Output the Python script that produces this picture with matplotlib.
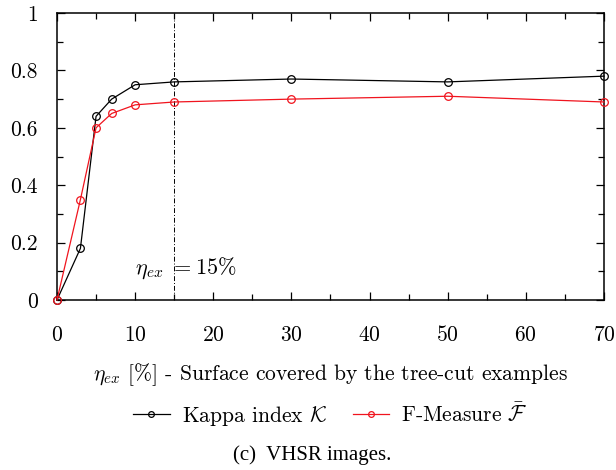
import numpy as np
import matplotlib
matplotlib.use("Agg")
import matplotlib.pyplot as plt
from matplotlib.ticker import MultipleLocator

plt.rcParams['font.family'] = 'serif'
plt.rcParams['font.serif'] = ['cmr10', 'DejaVu Serif']
plt.rcParams['mathtext.fontset'] = 'cm'
plt.rcParams['axes.formatter.use_mathtext'] = True

# data
eta = [0, 3, 5, 7, 10, 15, 30, 50, 70]
kappa = [0.0, 0.18, 0.64, 0.70, 0.75, 0.76, 0.77, 0.76, 0.78]
fmeasure = [0.0, 0.35, 0.60, 0.65, 0.68, 0.69, 0.70, 0.71, 0.69]
eta_sel = 15

fs = 15.5
fig = plt.figure(figsize=(6.16, 4.70), dpi=100)
ax = fig.add_axes([0.0925, 0.3617, 0.888, 0.6106])

ax.plot(eta, kappa, color='black', lw=0.9, marker='o', ms=5.5,
        mfc='none', mew=0.9, label=r'Kappa index $\mathcal{K}$', clip_on=False, zorder=3)
ax.plot(eta, fmeasure, color='#f0141e', lw=0.9, marker='o', ms=5.5,
        mfc='none', mew=0.9, label=r'F-Measure $\bar{\mathcal{F}}$', clip_on=False, zorder=3)
ax.axvline(eta_sel, color='black', lw=0.7, ls=(0, (5, 2, 1, 2)))
ax.text(10.0, 0.11, r'$\eta_{ex}\ = 15\%$', fontsize=16, ha='left', va='center')

ax.set_xlim(0, 70)
ax.set_ylim(0, 1)
ax.xaxis.set_major_locator(MultipleLocator(10))
ax.xaxis.set_minor_locator(MultipleLocator(5))
ax.yaxis.set_minor_locator(MultipleLocator(0.1))
ax.set_yticks([0, 0.2, 0.4, 0.6, 0.8, 1])
ax.set_yticklabels(['0', '0.2', '0.4', '0.6', '0.8', '1'])
ax.tick_params(which='both', direction='in', top=True, right=True, labelsize=fs)
ax.tick_params(which='major', length=6, width=0.9)
ax.tick_params(which='minor', length=4, width=0.9)
ax.tick_params(axis='x', which='major', pad=18)
ax.tick_params(axis='y', which='major', pad=14)
for s in ax.spines.values():
    s.set_linewidth(1.1)

ax.set_xlabel(r'$\eta_{ex}$ [%] - Surface covered by the tree-cut examples',
              fontsize=fs, labelpad=12)
ax.legend(loc='center', bbox_to_anchor=(0.5, -0.40), ncol=2,
          frameon=False, fontsize=fs, handlelength=1.7, handletextpad=0.56,
          columnspacing=1.2, markerscale=0.75)

fig.text(0.507, 0.032, '(c)  VHSR images.', fontsize=15,
         family='Liberation Serif', ha='center', va='center')

fig.savefig('out.png', dpi=100)
